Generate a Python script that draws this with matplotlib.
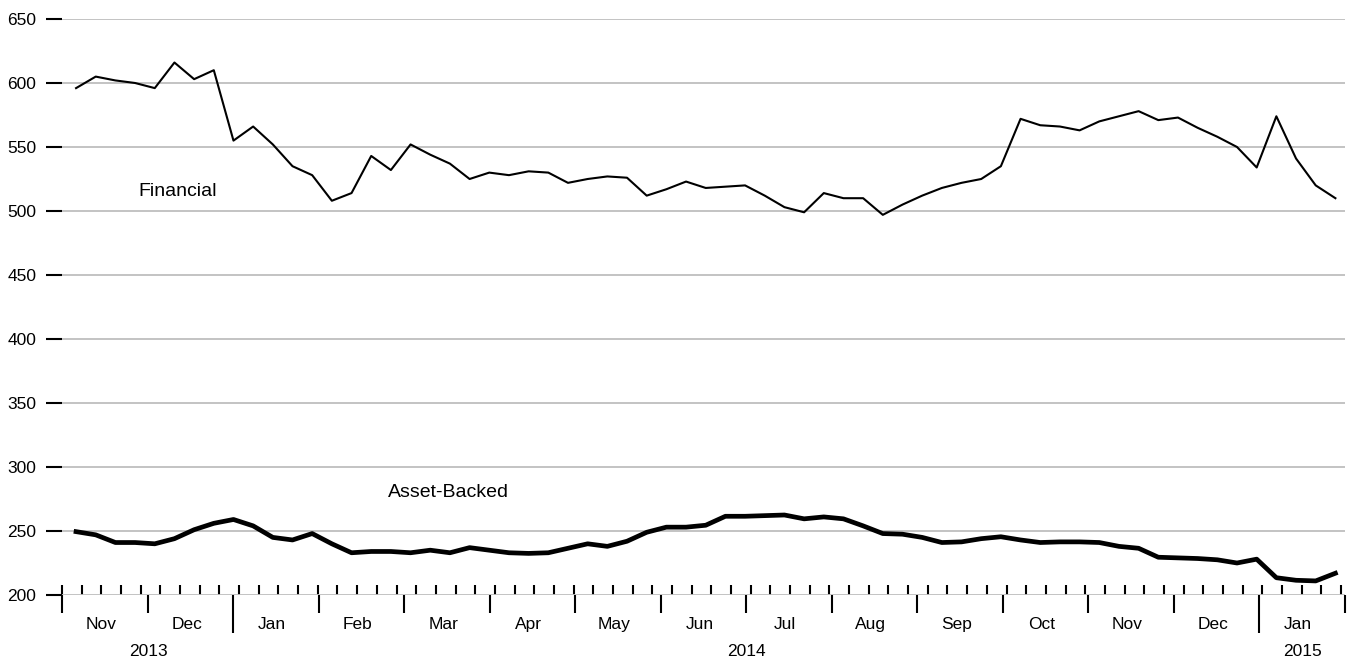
import numpy as np
import pandas as pd
import matplotlib
matplotlib.use('Agg')
import matplotlib.pyplot as plt

plt.rcParams['font.family'] = ['Liberation Sans', 'DejaVu Sans']

# weekly observations (Wednesdays)
dates = pd.date_range('2013-11-06', periods=65, freq='7D')

financial = [596, 605, 602, 600, 596, 616, 603, 610, 555, 566, 552, 535, 528, 508,
             514, 543, 532, 552, 544, 537, 525, 530, 528, 531, 530, 522, 525, 527,
             526, 512, 517, 523, 518, 519, 520, 512, 503, 499, 514, 510, 510, 497,
             505, 512, 518, 522, 525, 535, 572, 567, 566, 563, 570, 574, 578, 571,
             573, 565, 558, 550, 534, 574, 541, 520, 510]

asset_backed = [249.5, 247, 241, 241, 240, 244, 251, 256, 259, 254, 245, 243, 248, 240,
                233, 234, 234, 233, 235, 233, 237, 235, 233, 232.5, 233, 236.5, 240, 238,
                242, 249, 253, 253, 254.5, 261.5, 261.5, 262, 262.5, 259.5, 261, 259.5, 254,
                248, 247.5, 245, 241, 241.5, 244, 245.5, 243, 241, 241.5, 241.5, 241, 238,
                236.5, 229.5, 229, 228.5, 227.5, 225, 228, 213.5, 211.5, 211, 217]

month_starts = pd.date_range('2013-11-01', '2015-02-01', freq='MS')
week_ticks = pd.date_range('2013-11-01', '2015-01-30', freq='7D')


def dec_year(d):
    d = pd.DatetimeIndex(d)
    days = np.where(d.is_leap_year, 366, 365)
    return np.asarray(d.year + (d.dayofyear - 1) / days)


x = dec_year(dates)
month_pos = np.asarray(month_starts.year + (month_starts.month - 1) / 12)

fig = plt.figure(figsize=(13.54, 6.6), dpi=100)
ax = fig.add_axes([62 / 1354, 65 / 660, 1283 / 1354, 576 / 660])

ax.plot(x, financial, color='black', lw=1.5)
ax.plot(x, asset_backed, color='black', lw=3.4)

ax.set_xlim(month_pos[0], month_pos[-1])
ax.set_ylim(200, 650)
ax.set_yticks(range(200, 651, 50))
ax.grid(axis='y', color='#bebebe', lw=1.3)
ax.set_axisbelow(True)
for s in ax.spines.values():
    s.set_visible(False)
ax.tick_params(axis='y', length=11.5, width=1.5, pad=7, labelsize=12.5)

# month boundaries below, weeks above the axis
ax.set_xticks(month_pos)
ax.set_xticklabels([])
ax.set_xticks(list(dec_year(week_ticks)) + [month_pos[-1]], minor=True)
ax.tick_params(axis='x', which='major', direction='out', length=13, width=1.5)
ax.tick_params(axis='x', which='minor', direction='in', length=7.2, width=1.5)
for t, m in zip(ax.xaxis.get_major_ticks(), month_starts.month):
    if m == 1:
        t.tick1line.set_markersize(27.4)

# month names
centers = (month_pos[:-1] + month_pos[1:]) / 2
sec = ax.secondary_xaxis('bottom')
sec.set_xticks(centers - 0.004, list(month_starts[:-1].strftime('%b')))
sec.tick_params(length=0, pad=16, labelsize=12.5)
sec.spines['bottom'].set_visible(False)

# years
jan = month_pos[month_starts.month == 1]
edges = np.concatenate([[month_pos[0]], jan, [month_pos[-1]]])
sec2 = ax.secondary_xaxis('bottom')
sec2.set_xticks((edges[:-1] + edges[1:]) / 2, ['2013', '2014', '2015'])
sec2.tick_params(length=0, pad=35, labelsize=12.5)
sec2.spines['bottom'].set_visible(False)

ax.text(2013.946, 515, 'Financial', ha='center', va='center', fontsize=14)
ax.text(2014.2094, 280, 'Asset-Backed', ha='center', va='center', fontsize=14)

fig.savefig('out.png', dpi=100)
